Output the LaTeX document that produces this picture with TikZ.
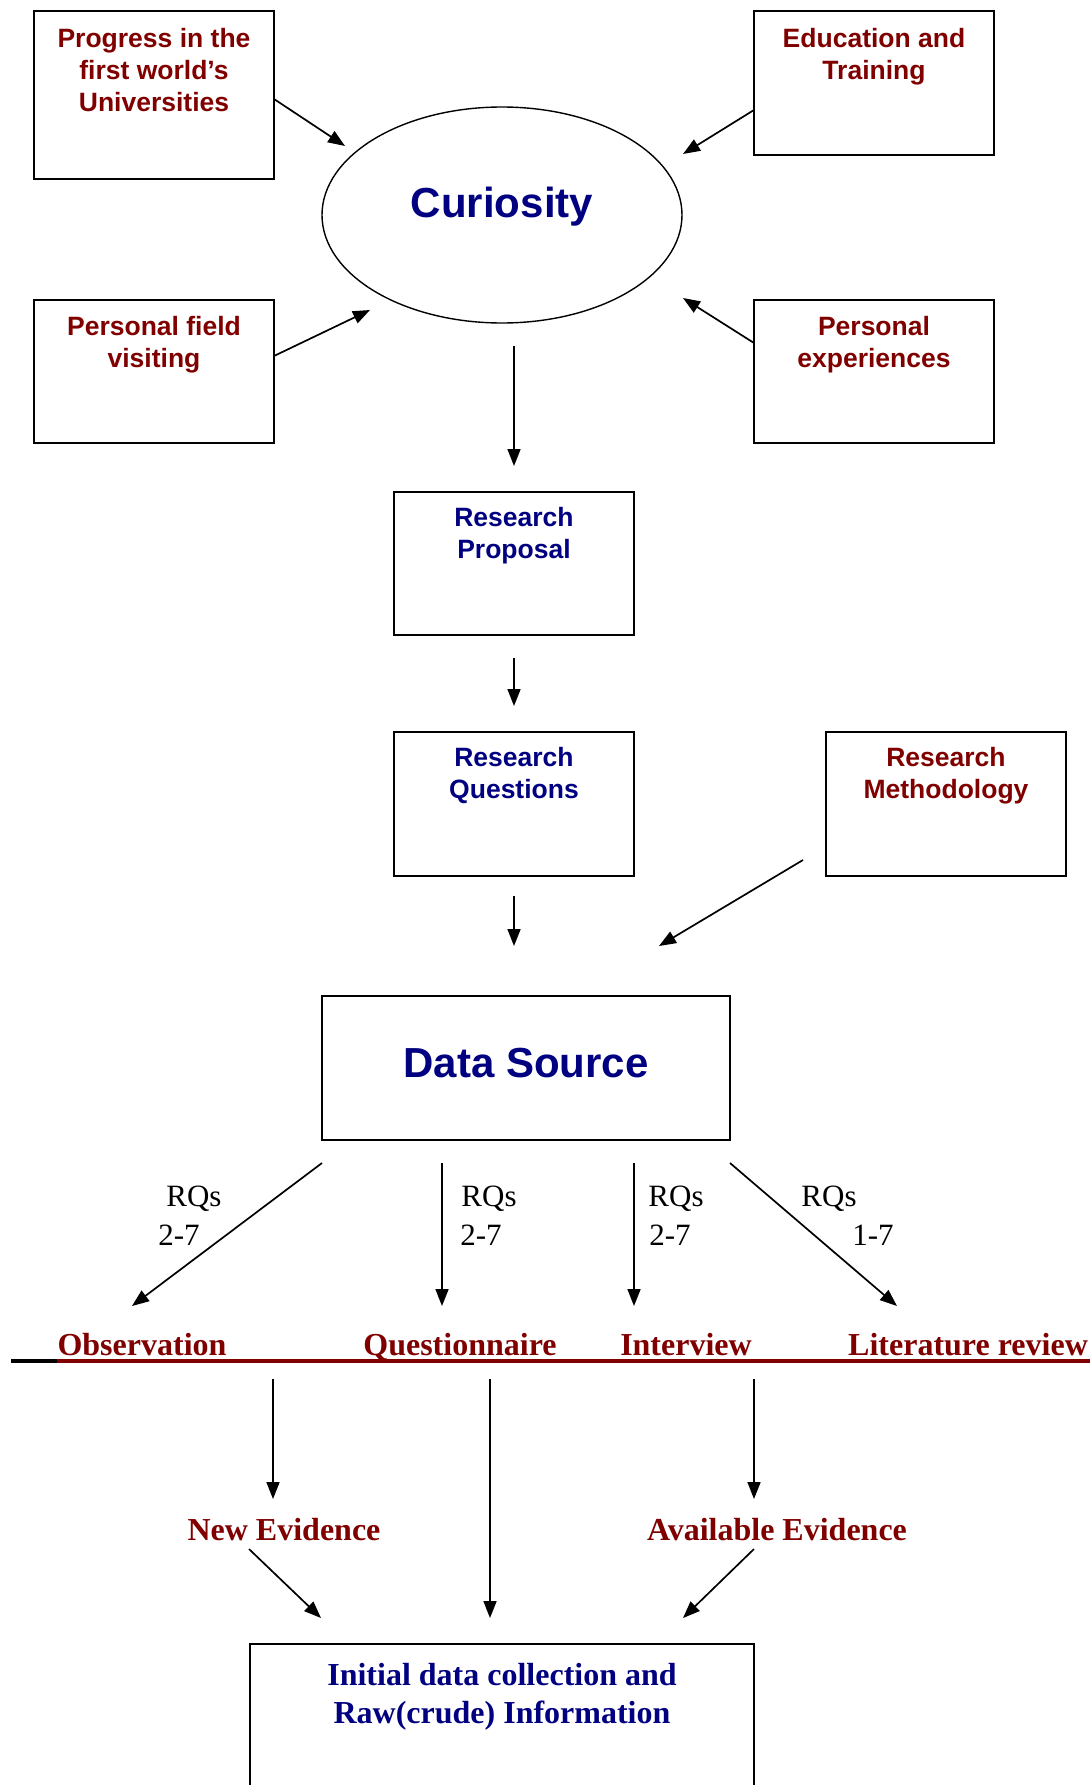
\documentclass[tikz,border=0pt]{standalone}
\usepackage{fontspec}
\setmainfont{Liberation Serif}
\newfontfamily\arialfont{Liberation Sans}
\usetikzlibrary{arrows.meta,calc,shapes.geometric}
\definecolor{dred}{RGB}{128,0,0}
\definecolor{dblue}{RGB}{0,0,128}
\begin{document}
\begin{tikzpicture}[x=1pt,y=-1pt,
  box/.style={draw, line width=1.7pt, rectangle, minimum width=240pt, minimum height=144pt, inner sep=0pt},
  btxt/.style={font=\arialfont\bfseries\fontsize{26.5}{32}\selectfont, align=center, inner sep=0pt, anchor=north},
  bigtxt/.style={font=\arialfont\bfseries\fontsize{42}{48}\selectfont, text=dblue, inner sep=0pt},
  arr/.style={line width=1.7pt, -{Triangle[length=17pt,width=13pt]}},
  rqtxt/.style={font=\fontsize{31}{36}\selectfont, inner sep=0pt},
  ltxt/.style={font=\bfseries\fontsize{32}{38}\selectfont, text=dred, inner sep=0pt}]
\useasboundingbox[fill=white] (0,0) rectangle (1091,1785);

% top boxes
\node[box, minimum height=168pt] (b1) at (154,95) {};
\node[box] (b2) at (874,83) {};
\node[box, minimum height=143pt] (b3) at (154,371.5) {};
\node[box, minimum height=143pt] (b4) at (874,371.5) {};
\node[btxt, text=dred] (t1) at ($(b1.north)+(0,18)$) {Progress in the\\first world’s\\Universities};
\node[btxt, text=dred] (t2) at ($(b2.north)+(0,18)$) {Education and\\Training};
\node[btxt, text=dred] (t3) at ($(b3.north)+(0,17)$) {Personal field\\visiting};
\node[btxt, text=dred] (t4) at ($(b4.north)+(0,17)$) {Personal\\experiences};

% curiosity
\node[draw, ellipse, line width=1.4pt, minimum width=360pt, minimum height=216pt, inner sep=0pt] (cur) at (502,215) {};
\node[bigtxt] (curt) at (502,207) {Curiosity};

% middle boxes
\node[box, minimum height=143pt] (rp) at (514,563.5) {};
\node[btxt, text=dblue] (rpt) at ($(rp.north)+(0,16)$) {Research\\Proposal};
\node[box] (rq) at (514,804) {};
\node[btxt, text=dblue] (rqt) at ($(rq.north)+(0,16)$) {Research\\Questions};
\node[box] (rm) at (946,804) {};
\node[btxt, text=dred] (rmt) at ($(rm.north)+(0,16)$) {Research\\Methodology};

\node[box, minimum width=408pt] (ds) at (526,1068) {};
\node[bigtxt] (dst) at (526,1063) {Data Source};

% coordinates
\coordinate (a1s) at (274,99);   \coordinate (a1e) at (345,146);
\coordinate (a2s) at (754,110);  \coordinate (a2e) at (683,154);
\coordinate (a3s) at (274,356);  \coordinate (a3e) at (370,310);
\coordinate (a4s) at (754,343);  \coordinate (a4e) at (683,298);
\coordinate (a5s) at (514,346);  \coordinate (a5e) at (514,466);
\coordinate (a6s) at (514,658);  \coordinate (a6e) at (514,706);
\coordinate (a7s) at (514,896);  \coordinate (a7e) at (514,946);
\coordinate (a8s) at (803,860);  \coordinate (a8e) at (659,946);
\coordinate (a9s) at (322,1163); \coordinate (a9e) at (132,1306);
\coordinate (a10s) at (442,1163); \coordinate (a10e) at (442,1306);
\coordinate (a11s) at (634,1163); \coordinate (a11e) at (634,1306);
\coordinate (a12s) at (730,1163); \coordinate (a12e) at (897,1306);
\coordinate (a13s) at (273,1379); \coordinate (a13e) at (273,1499);
\coordinate (a14s) at (490,1379); \coordinate (a14e) at (490,1618);
\coordinate (a15s) at (754,1379); \coordinate (a15e) at (754,1499);
\coordinate (a16s) at (249,1549); \coordinate (a16e) at (321,1618);
\coordinate (a17s) at (754,1549); \coordinate (a17e) at (683,1618);

\draw[arr] (a1s) -- (a1e);
\draw[arr] (a2s) -- (a2e);
\draw[arr] (a3s) -- (a3e);
\draw[arr] (a4s) -- (a4e);
\draw[arr] (a5s) -- (a5e);
\draw[arr] (a6s) -- (a6e);
\draw[arr] (a7s) -- (a7e);
\draw[arr] (a8s) -- (a8e);
\draw[arr] (a9s) -- (a9e);
\draw[arr] (a10s) -- (a10e);
\draw[arr] (a11s) -- (a11e);
\draw[arr] (a12s) -- (a12e);
\draw[arr] (a13s) -- (a13e);
\draw[arr] (a14s) -- (a14e);
\draw[arr] (a15s) -- (a15e);
\draw[arr] (a16s) -- (a16e);
\draw[arr] (a17s) -- (a17e);

% RQ labels
\node[rqtxt] (r1a) at (194,1199) {RQs};
\node[rqtxt] (r1b) at (179,1235) {2-7};
\node[rqtxt] (r2a) at (489,1199) {RQs};
\node[rqtxt] (r2b) at (481,1235) {2-7};
\node[rqtxt] (r3a) at (676,1199) {RQs};
\node[rqtxt] (r3b) at (670,1235) {2-7};
\node[rqtxt] (r4a) at (829,1199) {RQs};
\node[rqtxt] (r4b) at (873,1235) {1-7};

% method labels
\node[ltxt, anchor=base] (obs) at (142,1355) {Observation};
\node[ltxt, anchor=base] (que) at (460,1355) {Questionnaire};
\node[ltxt, anchor=base] (int) at (686,1355) {Interview};
\node[ltxt, anchor=base] (lit) at (968,1355) {Literature review};
\coordinate (u0) at (11,1361); \coordinate (u1) at (57,1361); \coordinate (u2) at (1090,1361);
\draw[line width=3.5pt, black] (u0) -- (u1);
\draw[line width=3.5pt, dred] (u1) -- (u2);

\node[ltxt] (newe) at (284,1530) {New Evidence};
\node[ltxt] (ave) at (777,1530) {Available Evidence};

% final box
\begin{scope}
\clip (0,0) rectangle (1091,1785);
\node[box, minimum width=504pt, minimum height=180pt] (fin) at (502,1734) {};
\end{scope}
\node[font=\bfseries\fontsize{32}{38}\selectfont, text=dblue, align=center, anchor=north, inner sep=0pt] (fint) at ($(fin.north)+(0,20)$) {Initial data collection and\\Raw(crude) Information};
\end{tikzpicture}
\end{document}
